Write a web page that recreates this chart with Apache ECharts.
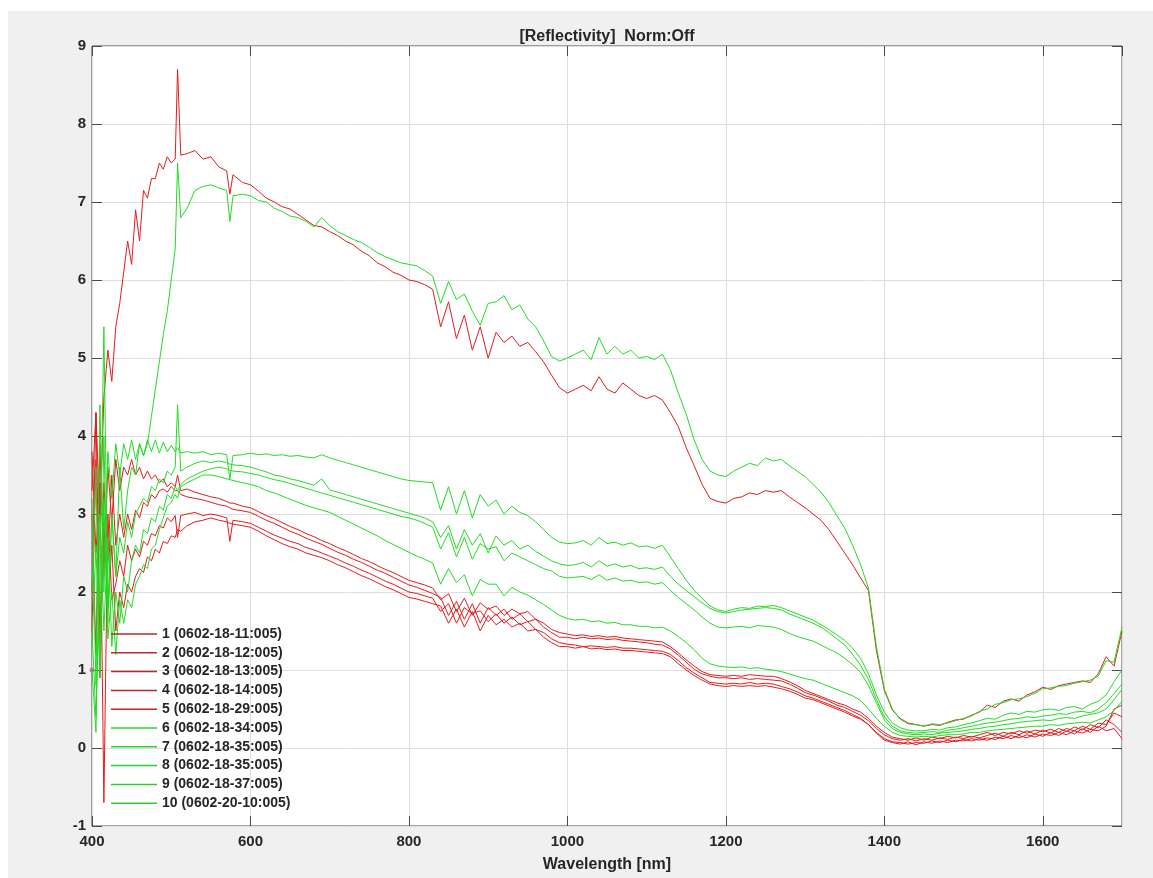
<!DOCTYPE html>
<html><head><meta charset="utf-8">
<script src="https://cdn.jsdelivr.net/npm/echarts@6/dist/echarts.min.js"></script>
<style>
html,body{margin:0;padding:0;background:#fff;width:1153px;height:878px;overflow:hidden}
#bg{position:absolute;left:8px;top:11px;right:0;bottom:0;background:#f0f0f0}
#chart{position:absolute;left:0;top:0;width:1153px;height:878px}
</style></head><body><div id="bg"></div><div id="chart"></div>
<script>
// ---------- DATA ----------
const wavelength = [
 400,405,410,415,420,425,430,435,440,445,450,455,460,465,470,475,480,485,490,495,500,505,
 508,512,520,530,540,550,560,570,574,578,590,
 600,610,620,630,640,650,660,670,680,690,
 700,710,720,730,740,750,760,770,780,790,
 800,810,820,830,840,850,860,870,880,890,
 900,910,920,930,940,950,960,970,980,990,
 1000,1010,1020,1030,1040,1050,1060,1070,1080,1090,
 1100,1110,1120,1130,1140,1150,1160,1170,1180,1190,
 1200,1210,1220,1230,1240,1250,1260,1270,1280,1290,
 1300,1310,1320,1330,1340,1350,1360,1370,1380,1390,
 1400,1410,1420,1430,1440,1450,1460,1470,1480,1490,
 1500,1510,1520,1530,1540,1550,1560,1570,1580,1590,
 1600,1610,1620,1630,1640,1650,1660,1670,1680,1690,
 1700
];
const s1 = [
 3.3,4.3,2.9,4.5,5.1,4.7,5.4,5.7,6.1,6.5,6.2,6.9,6.5,7.15,7.05,7.3,7.3,7.5,7.42,7.58,7.5,7.55,
 8.7,7.6,7.62,7.66,7.55,7.58,7.45,7.4,7.1,7.35,7.25,
 7.22,7.14,7.05,7.0,6.94,6.91,6.84,6.77,6.7,6.68,
 6.62,6.57,6.5,6.45,6.37,6.31,6.22,6.17,6.1,6.06,
 6.0,5.98,5.94,5.88,5.4,5.72,5.25,5.55,5.1,5.4,
 5.0,5.33,5.2,5.28,5.15,5.2,5.08,4.95,4.78,4.62,
 4.55,4.6,4.65,4.58,4.76,4.6,4.55,4.68,4.6,4.52,
 4.48,4.52,4.46,4.3,4.12,3.85,3.62,3.38,3.2,3.16,
 3.14,3.2,3.22,3.27,3.25,3.3,3.28,3.3,3.22,3.15,
 3.08,3.0,2.92,2.8,2.65,2.5,2.35,2.18,2.02,1.25,
 0.74,0.49,0.38,0.32,0.3,0.28,0.3,0.29,0.33,0.36,
 0.37,0.42,0.46,0.55,0.52,0.6,0.63,0.6,0.68,0.72,
 0.78,0.75,0.8,0.82,0.84,0.86,0.84,0.95,1.17,1.05,
 1.5
];
const s2 = [
 3.0,1.2,3.9,2.2,3.6,2.9,3.7,3.3,3.6,3.5,3.7,3.5,3.6,3.45,3.55,3.45,3.5,3.4,3.45,3.35,3.4,3.35,
 3.5,3.3,3.32,3.28,3.25,3.22,3.2,3.16,3.14,3.14,3.1,
 3.08,3.03,2.98,2.94,2.89,2.84,2.8,2.75,2.71,2.66,
 2.62,2.57,2.53,2.48,2.43,2.39,2.34,2.29,2.25,2.2,
 2.15,2.12,2.09,2.05,1.9,1.98,1.75,1.92,1.7,1.86,
 1.78,1.82,1.7,1.78,1.72,1.75,1.65,1.6,1.52,1.48,
 1.46,1.44,1.45,1.43,1.44,1.42,1.43,1.41,1.4,1.39,
 1.38,1.37,1.36,1.3,1.22,1.13,1.05,0.98,0.94,0.93,
 0.92,0.93,0.92,0.94,0.93,0.92,0.92,0.89,0.85,0.8,
 0.74,0.7,0.66,0.62,0.58,0.55,0.5,0.46,0.38,0.28,
 0.2,0.14,0.12,0.1,0.13,0.1,0.14,0.12,0.15,0.13,
 0.16,0.14,0.17,0.2,0.16,0.2,0.18,0.22,0.19,0.23,
 0.21,0.24,0.2,0.25,0.22,0.28,0.24,0.32,0.3,0.45,
 0.4
];
const s3 = [
 2.0,4.3,1.4,3.4,2.4,3.5,2.6,3.0,2.7,3.0,2.8,3.05,2.95,3.15,3.1,3.25,3.2,3.3,3.32,3.28,3.35,3.3,
 3.3,3.25,3.22,3.2,3.18,3.15,3.12,3.1,3.08,3.06,3.04,
 3.02,2.97,2.92,2.88,2.83,2.78,2.74,2.69,2.65,2.61,
 2.56,2.51,2.47,2.42,2.38,2.33,2.28,2.24,2.19,2.14,
 2.09,2.06,2.02,1.98,1.93,1.7,1.88,1.65,1.85,1.6,
 1.8,1.7,1.78,1.65,1.72,1.62,1.65,1.55,1.48,1.42,
 1.42,1.4,1.42,1.4,1.41,1.39,1.4,1.38,1.37,1.36,
 1.35,1.33,1.32,1.27,1.19,1.1,1.01,0.95,0.92,0.9,
 0.9,0.89,0.9,0.88,0.89,0.88,0.87,0.86,0.82,0.77,
 0.71,0.68,0.64,0.6,0.55,0.52,0.47,0.42,0.35,0.25,
 0.17,0.12,0.1,0.12,0.09,0.12,0.1,0.13,0.11,0.14,
 0.12,0.15,0.13,0.16,0.19,0.15,0.2,0.17,0.22,0.18,
 0.23,0.19,0.25,0.21,0.27,0.23,0.3,0.26,0.36,0.3,
 0.2
];
const s4 = [
 3.8,2.5,3.4,-0.7,3.0,1.9,2.1,2.4,2.2,2.6,2.4,2.55,2.45,2.65,2.6,2.75,2.72,2.85,2.82,2.95,2.9,2.98,
 2.7,2.98,3.0,3.02,2.98,3.0,2.98,2.95,2.65,2.92,2.9,
 2.88,2.83,2.78,2.73,2.69,2.65,2.62,2.57,2.54,2.5,
 2.46,2.42,2.37,2.33,2.28,2.24,2.19,2.14,2.1,2.05,
 2.0,1.98,1.95,1.92,1.75,1.85,1.6,1.8,1.72,1.76,
 1.62,1.72,1.6,1.68,1.58,1.62,1.52,1.48,1.4,1.35,
 1.33,1.32,1.3,1.31,1.3,1.29,1.3,1.28,1.28,1.27,
 1.26,1.25,1.24,1.2,1.12,1.03,0.96,0.9,0.84,0.83,
 0.82,0.83,0.82,0.84,0.82,0.83,0.82,0.79,0.76,0.72,
 0.67,0.64,0.6,0.56,0.52,0.48,0.43,0.38,0.3,0.2,
 0.12,0.08,0.07,0.05,0.07,0.06,0.09,0.07,0.1,0.08,
 0.11,0.09,0.12,0.1,0.14,0.12,0.16,0.13,0.17,0.14,
 0.18,0.16,0.2,0.17,0.22,0.19,0.24,0.22,0.28,0.5,
 0.55
];
const s5 = [
 1.5,3.7,0.9,2.9,1.8,2.6,1.5,2.0,1.8,2.1,2.0,2.2,2.3,2.25,2.45,2.4,2.55,2.5,2.65,2.62,2.72,2.7,
 2.8,2.78,2.85,2.9,2.92,2.95,2.92,2.9,2.88,2.87,2.85,
 2.83,2.78,2.72,2.67,2.62,2.58,2.55,2.5,2.47,2.44,
 2.4,2.35,2.31,2.26,2.21,2.17,2.12,2.07,2.03,1.98,
 1.93,1.91,1.88,1.85,1.82,1.6,1.78,1.55,1.75,1.5,
 1.7,1.58,1.65,1.55,1.6,1.5,1.52,1.42,1.35,1.3,
 1.3,1.28,1.3,1.27,1.28,1.26,1.27,1.25,1.25,1.24,
 1.23,1.22,1.21,1.17,1.08,1.0,0.93,0.87,0.82,0.8,
 0.79,0.8,0.79,0.8,0.79,0.8,0.78,0.76,0.73,0.69,
 0.64,0.62,0.58,0.54,0.5,0.46,0.41,0.37,0.3,0.19,
 0.1,0.07,0.05,0.08,0.04,0.08,0.06,0.09,0.07,0.1,
 0.09,0.12,0.1,0.13,0.11,0.15,0.12,0.16,0.13,0.18,
 0.15,0.2,0.16,0.22,0.18,0.25,0.2,0.28,0.22,0.25,
 0.12
];
const s6 = [
 1.5,0.4,2.2,5.4,1.8,3.0,2.2,3.6,2.8,3.3,3.6,3.5,3.9,3.75,3.9,4.25,4.6,4.95,5.3,5.6,6.0,6.4,
 7.5,6.8,6.92,7.15,7.2,7.22,7.18,7.15,6.75,7.08,7.1,
 7.08,7.02,7.0,6.92,6.88,6.82,6.8,6.75,6.68,6.8,
 6.7,6.62,6.57,6.52,6.48,6.42,6.35,6.3,6.26,6.22,
 6.2,6.18,6.12,6.05,5.7,5.98,5.75,5.82,5.6,5.42,
 5.7,5.72,5.8,5.62,5.68,5.5,5.4,5.22,5.02,4.96,
 5.0,5.05,5.1,4.98,5.26,5.05,5.15,5.05,5.1,5.0,
 5.02,4.98,5.05,4.85,4.55,4.28,3.95,3.7,3.55,3.5,
 3.48,3.55,3.6,3.65,3.62,3.72,3.68,3.7,3.62,3.55,
 3.48,3.38,3.28,3.15,2.98,2.82,2.6,2.35,2.05,1.3,
 0.76,0.5,0.37,0.31,0.3,0.28,0.31,0.3,0.32,0.35,
 0.38,0.41,0.47,0.5,0.56,0.58,0.62,0.63,0.66,0.7,
 0.76,0.77,0.79,0.8,0.83,0.85,0.87,0.92,1.12,1.1,
 1.55
];
const s7 = [
 3.2,0.8,4.4,2.0,3.8,3.2,3.9,3.5,3.9,3.7,3.95,3.7,3.9,3.75,3.95,3.8,3.95,3.78,3.92,3.8,3.88,3.8,
 3.85,3.78,3.8,3.78,3.8,3.76,3.78,3.76,3.45,3.75,3.76,
 3.78,3.76,3.77,3.75,3.76,3.74,3.75,3.73,3.72,3.76,
 3.72,3.69,3.66,3.63,3.6,3.57,3.54,3.51,3.48,3.45,
 3.43,3.42,3.41,3.4,3.05,3.35,3.0,3.3,2.95,3.25,
 3.1,3.18,3.0,3.1,3.02,2.98,2.9,2.8,2.7,2.64,
 2.62,2.63,2.66,2.6,2.7,2.62,2.64,2.6,2.63,2.58,
 2.59,2.56,2.6,2.45,2.3,2.15,2.02,1.92,1.82,1.77,
 1.75,1.78,1.8,1.79,1.82,1.81,1.83,1.8,1.76,1.72,
 1.68,1.64,1.58,1.52,1.45,1.38,1.28,1.15,0.95,0.68,
 0.46,0.32,0.26,0.23,0.22,0.22,0.24,0.23,0.26,0.27,
 0.3,0.32,0.35,0.38,0.37,0.42,0.45,0.43,0.47,0.46,
 0.49,0.5,0.48,0.52,0.53,0.5,0.56,0.6,0.68,0.85,
 1.0
];
const s8 = [
 2.0,3.6,1.0,4.0,1.6,3.0,2.2,2.7,2.5,2.9,2.7,3.0,3.1,3.2,3.15,3.35,3.3,3.45,3.4,3.55,3.5,3.6,
 4.4,3.55,3.6,3.65,3.68,3.66,3.68,3.66,3.64,3.63,3.62,
 3.6,3.57,3.54,3.5,3.48,3.45,3.43,3.4,3.37,3.45,
 3.31,3.28,3.25,3.22,3.19,3.16,3.13,3.1,3.07,3.04,
 3.01,2.98,2.95,2.9,2.7,2.85,2.55,2.8,2.6,2.75,
 2.5,2.72,2.6,2.66,2.55,2.6,2.52,2.46,2.4,2.36,
 2.34,2.35,2.38,2.32,2.4,2.33,2.36,2.32,2.34,2.3,
 2.31,2.29,2.32,2.2,2.1,2.02,1.94,1.86,1.79,1.75,
 1.73,1.75,1.77,1.78,1.79,1.8,1.79,1.77,1.72,1.68,
 1.64,1.6,1.55,1.48,1.4,1.32,1.2,1.06,0.88,0.62,
 0.4,0.28,0.22,0.2,0.19,0.2,0.21,0.2,0.23,0.24,
 0.26,0.28,0.3,0.32,0.33,0.35,0.37,0.38,0.4,0.39,
 0.41,0.42,0.44,0.43,0.46,0.47,0.45,0.5,0.58,0.7,
 0.82
];
const s9 = [
 1.0,0.2,3.0,1.5,2.7,1.3,2.0,1.6,2.2,2.0,2.4,2.6,2.5,2.8,2.75,2.95,2.9,3.1,3.05,3.25,3.2,3.35,
 3.3,3.38,3.45,3.5,3.55,3.58,3.6,3.58,3.56,3.55,3.54,
 3.52,3.5,3.47,3.44,3.42,3.39,3.36,3.33,3.3,3.27,
 3.24,3.21,3.18,3.15,3.12,3.09,3.06,3.03,3.0,2.97,
 2.95,2.92,2.88,2.83,2.55,2.76,2.45,2.7,2.42,2.62,
 2.55,2.58,2.4,2.5,2.45,2.4,2.35,2.3,2.27,2.2,
 2.18,2.19,2.2,2.16,2.22,2.15,2.18,2.14,2.15,2.12,
 2.13,2.1,2.12,2.02,1.93,1.85,1.77,1.68,1.6,1.55,
 1.54,1.55,1.56,1.54,1.57,1.56,1.55,1.52,1.47,1.43,
 1.4,1.37,1.32,1.27,1.22,1.15,1.07,0.97,0.8,0.58,
 0.36,0.25,0.2,0.18,0.17,0.18,0.17,0.19,0.2,0.21,
 0.22,0.24,0.25,0.27,0.28,0.3,0.31,0.33,0.34,0.35,
 0.36,0.35,0.38,0.39,0.38,0.41,0.43,0.45,0.5,0.62,
 0.75
];
const s10 = [
 1.3,2.6,0.9,3.2,1.4,2.0,1.2,1.9,1.6,1.9,1.8,2.1,2.2,2.35,2.3,2.55,2.6,2.8,2.95,3.1,3.15,3.25,
 3.2,3.35,3.4,3.45,3.5,3.5,3.48,3.45,3.44,3.43,3.4,
 3.38,3.35,3.3,3.27,3.23,3.19,3.15,3.11,3.08,3.05,
 3.02,2.97,2.92,2.87,2.82,2.77,2.72,2.66,2.61,2.56,
 2.51,2.46,2.42,2.37,2.1,2.3,2.12,2.22,1.95,2.16,
 2.1,2.1,1.95,2.06,2.0,1.96,1.9,1.84,1.77,1.7,
 1.66,1.64,1.65,1.62,1.63,1.6,1.61,1.58,1.58,1.56,
 1.56,1.54,1.55,1.5,1.43,1.35,1.26,1.15,1.08,1.05,
 1.04,1.03,1.04,1.02,1.03,1.01,1.0,0.98,0.95,0.92,
 0.89,0.87,0.83,0.79,0.75,0.71,0.67,0.61,0.5,0.38,
 0.28,0.2,0.16,0.15,0.14,0.15,0.14,0.16,0.17,0.17,
 0.18,0.2,0.2,0.22,0.23,0.24,0.25,0.26,0.27,0.28,
 0.28,0.3,0.29,0.31,0.32,0.33,0.32,0.36,0.4,0.48,
 0.6
];
const seriesValues = [s1, s2, s3, s4, s5, s6, s7, s8, s9, s10];
const seriesLabels = [
 '1 (0602-18-11:005)', '2 (0602-18-12:005)', '3 (0602-18-13:005)', '4 (0602-18-14:005)',
 '5 (0602-18-29:005)', '6 (0602-18-34:005)', '7 (0602-18-35:005)', '8 (0602-18-35:005)',
 '9 (0602-18-37:005)', '10 (0602-20-10:005)'
];
const markerPoint = [[400, 1]];
const titleText = '[Reflectivity]  Norm:Off';
const xAxisTitle = 'Wavelength [nm]';

// ---------- STYLE ----------
seriesValues.forEach((s, i) => {
  if (s.length !== wavelength.length) throw new Error('series ' + (i + 1) + ' length ' + s.length + ' vs ' + wavelength.length);
});
const RED = '#e21c1c', GREEN = '#22dc22';
const LEG_RED = '#b52a2a', LEG_GREEN = '#2ccf2c';
const FONT = '"Liberation Sans", Arial, sans-serif';
const TXT = '#262626';
const BOX = '#4a4a4a';

const chart = echarts.init(document.getElementById('chart'), null, {renderer: 'canvas'});
const mirrorTick = {show: true, inside: true, length: 10, lineStyle: {color: BOX, width: 1}};
const series = seriesValues.map((vals, i) => ({
  name: seriesLabels[i],
  type: 'line',
  data: vals.map((v, k) => [wavelength[k], v]),
  showSymbol: false,
  symbol: 'none',
  lineStyle: {width: 1, color: i < 5 ? RED : GREEN},
  itemStyle: {color: i < 5 ? RED : GREEN},
  emphasis: {disabled: true},
  animation: false
}));
series.push({
  name: 'marker', type: 'scatter', data: markerPoint, symbolSize: 5,
  itemStyle: {color: '#8c8270'}, silent: true, z: 5
});

chart.setOption({
  animation: false,
  backgroundColor: 'transparent',
  title: {
    text: titleText, left: 607, top: 29, padding: 0, textAlign: 'center',
    textStyle: {fontFamily: FONT, fontSize: 16, fontWeight: 'bold', color: TXT}
  },
  grid: {
    left: 92, right: 31, top: 46, bottom: 52, show: true,
    backgroundColor: '#ffffff', borderColor: BOX, borderWidth: 1, containLabel: false
  },
  legend: {
    data: seriesLabels.map((n, i) => ({name: n, itemStyle: {color: i < 5 ? LEG_RED : LEG_GREEN}})),
    orient: 'vertical', left: 111, top: 626, padding: 0,
    icon: 'rect', itemWidth: 46, itemHeight: 1.5, itemGap: 2.8, selectedMode: false,
    textStyle: {fontFamily: FONT, fontSize: 14, fontWeight: 'bold', color: TXT, lineHeight: 16}
  },
  xAxis: [{
    type: 'value', min: 400, max: 1700, interval: 200, position: 'bottom',
    name: xAxisTitle, nameLocation: 'middle', nameGap: 31,
    nameTextStyle: {fontFamily: FONT, fontSize: 16, fontWeight: 'bold', color: TXT},
    axisLine: {show: false, onZero: false},
    axisTick: mirrorTick,
    axisLabel: {fontFamily: FONT, fontSize: 15, fontWeight: 'bold', color: TXT, margin: 8, showMaxLabel: false,
      formatter: v => (v === 1700 ? '' : String(v))},
    splitLine: {show: true, lineStyle: {color: '#dedede', width: 1}}
  }, {
    type: 'value', min: 400, max: 1700, interval: 200, position: 'top',
    axisLine: {show: false, onZero: false}, axisTick: mirrorTick, axisLabel: {show: false}, splitLine: {show: false}
  }],
  yAxis: [{
    type: 'value', min: -1, max: 9, interval: 1, position: 'left',
    axisLine: {show: false, onZero: false},
    axisTick: mirrorTick,
    axisLabel: {fontFamily: FONT, fontSize: 15, fontWeight: 'bold', color: TXT, margin: 6},
    splitLine: {show: true, lineStyle: {color: '#dedede', width: 1}}
  }, {
    type: 'value', min: -1, max: 9, interval: 1, position: 'right',
    axisLine: {show: false, onZero: false}, axisTick: mirrorTick, axisLabel: {show: false}, splitLine: {show: false}
  }],
  series: series
});
</script></body></html>
